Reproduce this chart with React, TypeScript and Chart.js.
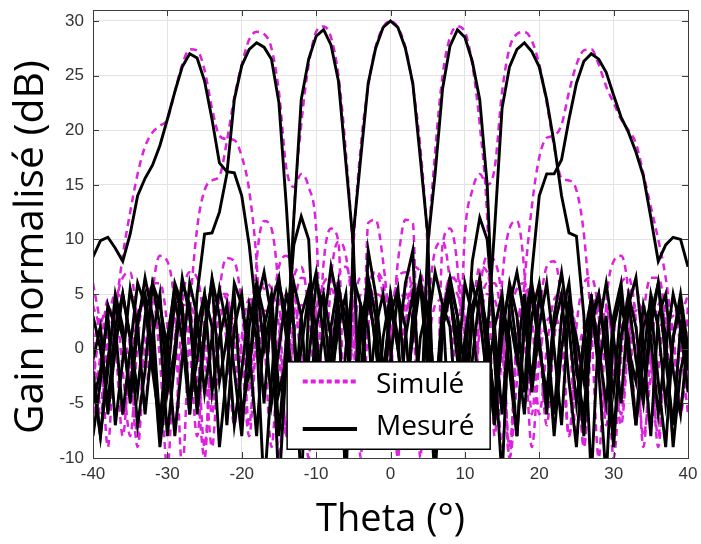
import React, { useEffect, useRef } from 'react';
import { Chart, registerables } from 'chart.js';

Chart.register(...registerables);

// Theta (degrees)
const THETA = [
  -40, -39, -38, -37, -36, -35, -34, -33, -32, -31,
  -30, -29, -28, -27, -26, -25, -24, -23, -22, -21,
  -20, -19, -18, -17, -16, -15, -14, -13, -12, -11,
  -10, -9, -8, -7, -6, -5, -4, -3, -2, -1,
  0, 1, 2, 3, 4, 5, 6, 7, 8, 9,
  10, 11, 12, 13, 14, 15, 16, 17, 18, 19,
  20, 21, 22, 23, 24, 25, 26, 27, 28, 29,
  30, 31, 32, 33, 34, 35, 36, 37, 38, 39,
  40,
];

// ---- Simulated beams (dB) ----
const SIM_M27 = [
  6, 2, -5, 3, 8.5, 12.5, 16, 18.5, 19.8, 20.4,
  21, 23.5, 26, 27.4, 27.3, 25.5, 22, 19.5, 19.2, 19.1,
  17.6, 14.5, 8, -4, 3, 7.5, 8.5, 6, -2, -10,
  3, 6, 6.5, 3, -6, 1.5, 5, 5.5, 2.5, -6,
  0.5, 4, 5, 2.5, -7, 0, 4, 4.5, 2, -8,
  -0.5, 3.5, 4, 1.5, -6, -1, 3, 3.5, 1, -9,
  -1, 2.5, 3, 0.5, -8, -1.5, 2, 3, 1, -6,
  -2, 2, 2.5, 0, -8, -2.5, 1.5, 2.5, 1, -5,
  -1,
];
const SIM_M18 = [
  4, 1, -9, 3, 6.5, 7, 2, -5, 5, 8.5,
  8, 3.5, -11, 3, 11, 14.5, 15.4, 15.8, 19, 23,
  26, 28.3, 29, 28.8, 27.5, 23.5, 16.5, 14.8, 16, 14.8,
  11, -5, 6.5, 9.8, 8.5, 2.5, -9, 4, 7, 6,
  1.5, -9, 2.5, 6, 6, 2.5, -8, 1.5, 5.5, 5,
  1, -8, 2, 5, 4.5, 0.5, -10, 1, 4.5, 4,
  0.5, -7, 1, 4.5, 4, 1, -9, 0.5, 3.5, 3.5,
  0, -7, 0.5, 3.5, 3, -0.5, -9, 1, 3, 2.5,
  -2,
];
const SIM_M9 = [
  0, -5, 2, 5, 4.5, 0, -8, 2.5, 6, 6,
  2, -7, 4, 7, 6.5, 2, -6, 5, 8.3, 8,
  4, -4, 8, 11.7, 11, 5, -8, 12, 20.5, 26,
  29, 29.5, 28.5, 25, 18, 8, -10, 11.5, 11.8, 8,
  1, -10, 5, 7.5, 7, 3, -8, 2.5, 6.5, 6,
  2, -7, 3, 6, 6, 2, -9, 1.5, 5, 5.5,
  2.5, -5, 1, 5, 4.5, 1, -9, 2, 4.5, 4,
  0, -6, 1.5, 4, 3.5, -1, -8, 1, 3.5, 2.5,
  -3,
];
const SIM_0 = [
  -7, -0.5, 4.5, 4, -2, -8, 0.5, 5.5, 5, -1,
  -11, 1, 4, 4, 1, -9, 1.5, 5, 4.5, 0.5,
  -7, 2.5, 5.8, 5.5, 2.5, -10, 1.5, 6.5, 7.5, 3.5,
  -4, 7.8, 11, 9.8, -10, 9, 18.5, 24, 27.6, 29.4,
  30, 29.4, 27.6, 24, 18.5, 9, -10, 9.5, 11, 7.5,
  -3, 3, 7.5, 7, 2, -9, 2, 5.5, 6, 3,
  -6, 0, 4.5, 5, 2, -8, 1, 4, 4.5, 1.5,
  -10, -1, 5, 5.5, 1, -7, -2, 4, 4.5, 0,
  -6,
];
const SIM_P9 = [
  -3, 2, 3.5, 2, -6, -2, 3, 4, 2, -8,
  0, 3.5, 5, 4, -3, -10, 2, 5, 5, 1,
  1.5, -7, 3, 6, 5.5, 2, -8, 3, 6.5, 6,
  3, -9, 1, 6.5, 7.5, 4, -6, 5, 7, 5,
  1, 8, 11.8, 11.5, -10, 8, 18, 25, 28.5, 29.5,
  29, 26, 20.5, 12, -8, 6, 11, 11.7, 7, -6,
  3, 7.5, 8, 4, -8, 2, 6, 6.5, 3, -7,
  1, 6, 6.5, 2.5, -9, 0, 4, 4.5, 1.5, -6,
  1,
];
const SIM_P18 = [
  0, 3, 3, 0.5, -8, 0, 3.5, 3.5, 0, -6,
  1, 4, 3.5, 0, -8, 1.5, 4.5, 4, 0.5, -7,
  1, 4.5, 4.5, 1, -9, 1, 5, 5, 1.5, -7,
  1.5, 5.5, 5.5, 2, -9, 3, 6.5, 6, 3, -8,
  2, 6.5, 7, 4.5, -8, 3, 9, 9.8, 6, -4,
  10.5, 14.5, 16, 15, 16.5, 23.5, 27.5, 28.8, 29, 28.2,
  26, 22.5, 18.5, 15.6, 15.4, 14.5, 10.5, 2, -10, 4,
  8, 8.5, 5, -6, 3, 6.5, 6.5, 2.5, -8, 2,
  5,
];
const SIM_P27 = [
  -1, -6, 0.5, 2.5, 1.5, -2, -9, 0, 2.5, 2,
  -1.5, -7, 0.5, 3, 2.5, -1, -9, 0.5, 3, 2.5,
  -1, -8, 1, 3.5, 3, -1, -7, 1, 4, 3.5,
  0, -9, 1.5, 4.5, 4, 0.5, -8, 2, 5, 4.5,
  1, -7, 2, 5.5, 5.5, 2, -8, 2.5, 6.5, 6.5,
  3, -5, 5, 8.5, 8, 4, -10, -3, 6, 13,
  17.5, 19.3, 19.5, 20.5, 23.5, 26, 27.3, 27.4, 26, 24,
  22.5, 21, 20, 18.8, 16, 13, 10, 6.5, 1, -6,
  4,
];

// ---- Measured beams (dB) ----
const MEAS_M27 = [
  8.4, 9.9, 10.2, 9.2, 8, 10.5, 14, 15.6, 16.8, 18.6,
  21, 23.5, 25.8, 27, 26.6, 24.5, 21, 17, 16.2, 16.1,
  14, 9.5, 3, -5, 4, 6.5, 1, -6, 3, 5.5,
  -1, -7, 2, 6, 1, -5, 4, 2, -8, 1,
  5, 0, -6, 3, 6, -2, -12, 2, 5, 1,
  -5, 4, 6, -1, -7, 2, 5.5, 0, -6, 3,
  6, 1, -8, 0, 4.5, -2, -6, 3, 5, -1,
  -9, 1, 5, 2, -4, 3, 6, -1, -7, 2,
  -1,
];
const MEAS_M18 = [
  -2, -8, -2, 5, 2, -5, 2, 6.5, 3, -7,
  0, 6, 4, -6, 5, 10.5, 10.6, 12.5, 16, 22.8,
  25.9, 27.4, 28, 27.6, 26.5, 22.5, 13, 2, -13, 4,
  7, 1, -5, 5, 3, -8, 2, 6, 0, -4,
  5, 1, -9, 3, 6.5, 0, -5, 4, 2, -7,
  1, 6, 3, -3, 2, 5, -2, -8, 3, 6,
  1, -6, 2, 5, -3, -9, 1, 4.5, 0, -5,
  3, 6, -1, -7, 2, 4, -3, -9, 1, 5,
  0,
];
const MEAS_M9 = [
  -1, 2, -6, 0, 5, 1, -4, 3, 6, 2,
  -8, -1, 6, 4, -6, 1, 6.5, 3, -7, 2,
  5, -2, 4, 7, 3, -13, -1, 12, 22.8, 26.5,
  28.6, 29.2, 27.8, 24.5, 17, 9.5, -8, 9, 5, -2,
  3, 5.5, -4, 1, 6, 3, -6, 2, 5, -1,
  -7, 3, 6.5, 1, -5, 4, 1, -8, 2, 5,
  0, -4, 3, 7, 2, -5, 1, 4, -2, -12,
  2, 5, 0, -3, 4, 1, -6, 0, 5, 2,
  -4,
];
const MEAS_0 = [
  -5, -2, 3, -7, -1, 5.5, 2, -6, 1, 5,
  -4, 0, 6.5, 3, -5, 2, 6, -3, 1, 5,
  -6, -2, 6, 0, 4, -8, 1, 9.5, 12.1, 10,
  -4, 2, 7.5, 4, -13, 10.5, 17.5, 24.3, 27.5, 29.4,
  30, 29.4, 27.5, 24.3, 17.5, 10.5, -10, 3, 6.5, 3,
  -2, 8, 12, 10, 2, -6, 3, -1, 5, -4,
  2, 6, 0, -7, 4, 1, -3, 5, -2, 3,
  -8, 1, 4.5, -1, -5, 2, 6, 1, -9, -2,
  1,
];
const MEAS_P9 = [
  -3, -8, -1, 4, 1, -4, 3, 5, 0, -9,
  -3, 4.5, 1, -6, 2, 5, -4, 1, 4, -2,
  -8, 2, 6, 3, -5, 0, 5, 2, -8, -1,
  6, 4, -3, 2, 5, -7, 1, 6.5, 3, -6,
  4, 0, 6, 9, -8, 9.5, 16, 23.8, 27.7, 29.2,
  28.5, 26.3, 22.8, 15, -1, -12, 4, 7, 3, -3,
  5, 1, -6, 3, 6, -1, -8, 2, 5, 0,
  -4, 4, 1, -7, -1, 5, 2, -5, 1, 4,
  -2,
];
const MEAS_P18 = [
  -8, -3, 4, 2, -6, 0, 6, 4, -2, -7,
  1, 5.5, 3, -5, -1, 5, 2, -9, -2, 6,
  4, 0, -8, 2, 5, -4, -1, 6, 3, -6,
  2, 5, 1, -9, 0, 6.5, 4, -5, 2, 5,
  0, -7, 1, 5, -4, 2, 7, 4, -8, -2,
  6, 3, -5, 1, 11, 22, 25.8, 27.4, 28, 27.2,
  25.8, 22.8, 18.8, 14, 10.6, 10.3, 3, -12, 2, 6,
  1, -5, 4, 6.5, 0, -8, 3, 5, -2, -6,
  1,
];
const MEAS_P27 = [
  3, 0, -5, 2, 5, 1, -7, -2, 6, 4,
  0, -8, -1, 6, 3, -4, 1, 5.5, 2, -7,
  -2, 4, 1, -13, -3, 6, 3, -5, 0, 5,
  2, -8, -1, 5, 3, -6, -2, 4.5, 1, -9,
  -1, 5, 2, -7, 1, 4, -4, 2, 6, 3,
  -8, -1, 5, 2, -6, 1, 6, 3, -4, 7,
  14, 16, 16, 17.3, 21, 24.3, 26.3, 27, 26.5, 25.3,
  23.2, 21.2, 19.8, 18, 15.8, 12, 8, 9.5, 10.2, 10,
  7.5,
];

const SIM_SERIES = [SIM_M27, SIM_M18, SIM_M9, SIM_0, SIM_P9, SIM_P18, SIM_P27];
const MEAS_SERIES = [MEAS_M27, MEAS_M18, MEAS_M9, MEAS_0, MEAS_P9, MEAS_P18, MEAS_P27];

const X_TICKS = [-40, -30, -20, -10, 0, 10, 20, 30, 40];
const Y_TICKS = [-10, -5, 0, 5, 10, 15, 20, 25, 30];

const MAGENTA = '#dc22dc';
const LEGEND_SIM = 'Simulé';
const LEGEND_MEAS = 'Mesuré';
const Y_TITLE = 'Gain normalisé (dB)';

const framePlugin = {
  id: 'frameAndLegend',
  afterDraw(chart: any) {
    const { ctx, chartArea: ca, scales } = chart;
    const x = scales.x;
    const y = scales.y;
    ctx.save();
    // frame
    ctx.strokeStyle = '#3c3c3c';
    ctx.lineWidth = 1;
    ctx.strokeRect(Math.round(ca.left) + 0.5, Math.round(ca.top) + 0.5, Math.round(ca.right - ca.left), Math.round(ca.bottom - ca.top));
    // inward ticks
    ctx.beginPath();
    X_TICKS.forEach((t) => {
      const px = Math.round(x.getPixelForValue(t)) + 0.5;
      ctx.moveTo(px, ca.bottom); ctx.lineTo(px, ca.bottom - 6);
      ctx.moveTo(px, ca.top); ctx.lineTo(px, ca.top + 6);
    });
    Y_TICKS.forEach((t) => {
      const py = Math.round(y.getPixelForValue(t)) + 0.5;
      ctx.moveTo(ca.left, py); ctx.lineTo(ca.left + 6, py);
      ctx.moveTo(ca.right, py); ctx.lineTo(ca.right - 6, py);
    });
    ctx.stroke();

    // legend box
    const bl = x.getPixelForValue(-13.9);
    const br = x.getPixelForValue(13.4);
    const bt = y.getPixelForValue(-1.2);
    const bb = y.getPixelForValue(-9.2);
    ctx.fillStyle = '#ffffff';
    ctx.fillRect(bl, bt, br - bl, bb - bt);
    ctx.strokeStyle = '#000000';
    ctx.lineWidth = 1.5;
    ctx.strokeRect(bl, bt, br - bl, bb - bt);

    const sx0 = x.getPixelForValue(-11.8);
    const sx1 = x.getPixelForValue(-4.5);
    const sy1 = y.getPixelForValue(-3.0);
    const sy2 = y.getPixelForValue(-7.35);
    ctx.lineWidth = 4;
    ctx.strokeStyle = MAGENTA;
    ctx.setLineDash([5, 3]);
    ctx.beginPath(); ctx.moveTo(sx0, sy1); ctx.lineTo(sx1, sy1); ctx.stroke();
    ctx.setLineDash([]);
    ctx.strokeStyle = '#000000';
    ctx.beginPath(); ctx.moveTo(sx0, sy2); ctx.lineTo(sx1, sy2); ctx.stroke();

    ctx.fillStyle = '#000000';
    ctx.font = '28px "Open Sans"';
    ctx.textBaseline = 'alphabetic';
    ctx.textAlign = 'left';
    const tx = x.getPixelForValue(-1.95);
    ctx.fillText(LEGEND_SIM, tx, y.getPixelForValue(-4.05));
    ctx.fillText(LEGEND_MEAS, tx, y.getPixelForValue(-7.9));

    // y-axis title
    ctx.translate(32, y.getPixelForValue(9.3));
    ctx.rotate(-Math.PI / 2);
    ctx.scale(1.02, 1);
    ctx.font = '40px "Open Sans"';
    ctx.textAlign = 'center';
    ctx.textBaseline = 'middle';
    ctx.fillText(Y_TITLE, 0, 0);
    ctx.restore();
  },
};

export default function App() {
  const ref = useRef<HTMLCanvasElement>(null);
  useEffect(() => {
    if (!ref.current) return;
    const toPts = (arr: number[]) => arr.map((v, i) => ({ x: THETA[i], y: v }));
    const datasets: any[] = [
      ...MEAS_SERIES.map((m) => ({
        label: LEGEND_MEAS,
        data: toPts(m),
        borderColor: '#000000',
        borderWidth: 2.9,
        pointRadius: 0,
        tension: 0,
        fill: false,
        order: 0,
      })),
      ...SIM_SERIES.map((s) => ({
        label: LEGEND_SIM,
        data: toPts(s),
        borderColor: MAGENTA,
        borderWidth: 2.5,
        borderDash: [7, 5],
        pointRadius: 0,
        cubicInterpolationMode: 'monotone',
        fill: false,
        order: 1,
      })),
    ];
    const chart = new Chart(ref.current, {
      type: 'line',
      data: { datasets },
      plugins: [framePlugin],
      options: {
        animation: false,
        responsive: true,
        maintainAspectRatio: false,
        layout: { padding: { left: 0, right: 13, top: 10, bottom: 0 } },
        plugins: { legend: { display: false }, tooltip: { enabled: false } },
        scales: {
          x: {
            type: 'linear',
            min: -40,
            max: 40,
            afterFit: (s: any) => { s.height = 86; s.paddingLeft = 0; s.paddingRight = 0; },
            afterBuildTicks: (s: any) => { s.ticks = X_TICKS.map((v) => ({ value: v })); },
            ticks: {
              font: { family: '"Liberation Sans", Arial, sans-serif', size: 17 },
              color: '#333333',
              padding: 6,
              maxRotation: 0,
            },
            grid: { color: '#e3e3e3', lineWidth: 1, drawTicks: false },
            border: { display: false },
            title: {
              display: true,
              text: 'Theta (°)',
              font: { family: '"Open Sans"', size: 38, lineHeight: 1.2 },
              color: '#000000',
              padding: { top: 0, bottom: 1 },
            },
          },
          y: {
            type: 'linear',
            min: -10,
            max: 31,
            afterFit: (s: any) => { s.width = 93; s.paddingTop = 0; s.paddingBottom = 0; },
            afterBuildTicks: (s: any) => { s.ticks = Y_TICKS.map((v) => ({ value: v })); },
            ticks: {
              font: { family: '"Liberation Sans", Arial, sans-serif', size: 17 },
              color: '#333333',
              padding: 9,
            },
            grid: { color: '#e3e3e3', lineWidth: 1, drawTicks: false },
            border: { display: false },
            title: { display: false },
          },
        },
      },
    });
    return () => chart.destroy();
  }, []);
  return (
    <div style={{ position: 'absolute', left: 0, top: 0, width: 701, height: 544, background: '#ffffff' }}>
      <canvas ref={ref} />
    </div>
  );
}
